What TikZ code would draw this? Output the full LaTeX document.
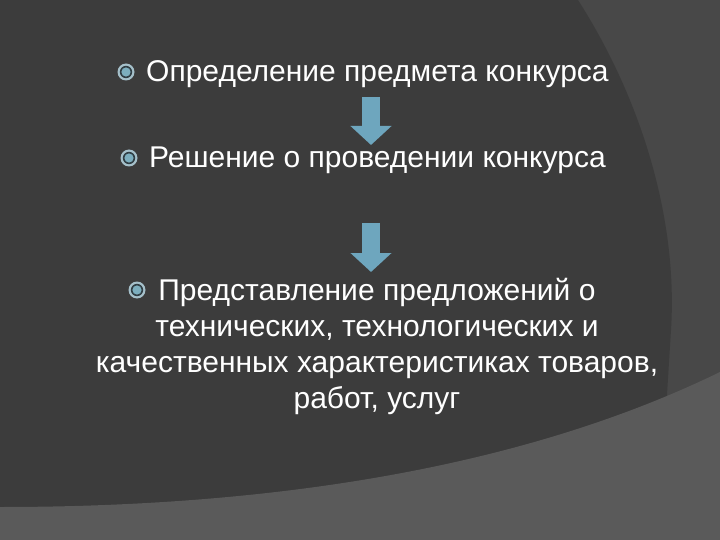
\documentclass[tikz,border=0pt]{standalone}
\usepackage{fontspec}
\setmainfont{Liberation Sans}
\usetikzlibrary{arrows.meta,positioning}

\definecolor{slidedark}{RGB}{60,60,60}
\definecolor{slidemid}{RGB}{72,72,72}
\definecolor{slidelight}{RGB}{90,90,90}
\definecolor{arrowblue}{RGB}{110,166,190}
\definecolor{ringblue}{RGB}{165,192,202}
\definecolor{ringgap}{RGB}{48,62,68}
\definecolor{dotblue}{RGB}{124,174,190}

\tikzset{
	item/.style={text=white, font=\fontsize{30}{36}\selectfont, inner sep=0pt},
	flow/.style={draw=arrowblue, line width=18pt, -{Triangle[width=40pt,length=19pt]}},
	bulletmark/.pic={
		\fill[ringblue] (0,0) circle (8.5pt);
		\fill[ringgap] (0,0) circle (6.2pt);
		\fill[dotblue] (0,0) circle (4.6pt);
	}
}

\begin{document}
\begin{tikzpicture}[x=1pt,y=-1pt]
	% background
	\fill[slidemid] (0,0) rectangle (720,540);
	\fill[slidedark] (0,0) -- (578,0) .. controls (642,100) and (678,220) .. (671,330) -- (658,540) -- (0,540) -- cycle;
	\fill[slidelight] (0,507) .. controls (330,507) and (560,450) .. (720,372) -- (720,540) -- (0,540) -- cycle;
	\useasboundingbox (0,0) rectangle (720,540);
	
	\node[item, anchor=base west] (def) at (146,82) {Определение предмета конкурса};
	\node[item, anchor=base west] (dec) at (149,168) {Решение о проведении конкурса};
	\node[item, anchor=base, align=center] (offer) at (377,408) {Представление предложений о\\технических, технологических и\\качественных характеристиках товаров,\\работ, услуг};
	
	\pic at ([xshift=-20pt,yshift=10pt]def.base west) {bulletmark};
	\pic at ([xshift=-20pt,yshift=10pt]dec.base west) {bulletmark};
	\pic at (137,290) {bulletmark};
	
	\coordinate (a1top) at (371,97);
	\coordinate (a1tip) at (371,145);
	\coordinate (a2top) at (371,223);
	\coordinate (a2tip) at (371,272);
	
	\draw[flow] (a1top) -- (a1tip);
	\draw[flow] (a2top) -- (a2tip);
\end{tikzpicture}
\end{document}
